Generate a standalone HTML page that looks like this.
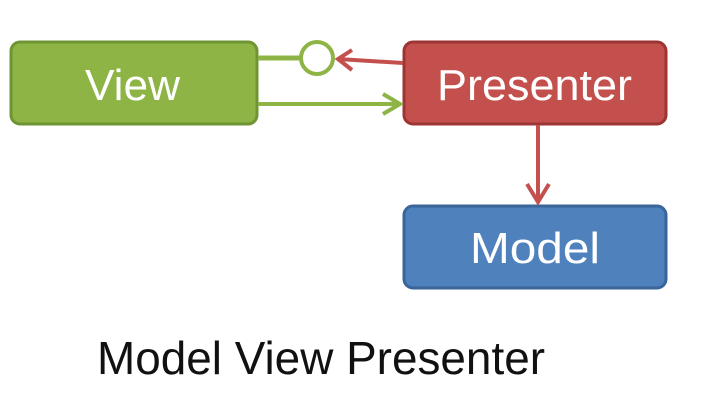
<!DOCTYPE html>
<html><head><style>
html,body{margin:0;padding:0;background:#fff;width:704px;height:408px;overflow:hidden}
</style></head><body>
<svg width="704" height="408" xmlns="http://www.w3.org/2000/svg" style="font-family:'Liberation Sans',sans-serif">
<rect x="11" y="42" width="246" height="82" rx="9" fill="#8db444" stroke="#6e9434" stroke-width="3"/>
<rect x="404" y="42" width="262" height="82" rx="9" fill="#c4504d" stroke="#9c3533" stroke-width="3"/>
<rect x="404" y="206" width="262" height="82" rx="9" fill="#4f81bd" stroke="#3a659a" stroke-width="3"/>
<text x="85" y="100" font-size="44" fill="#fff" textLength="95" lengthAdjust="spacingAndGlyphs">View</text>
<text x="437" y="100" font-size="44" fill="#fff" textLength="195" lengthAdjust="spacingAndGlyphs">Presenter</text>
<text x="470" y="263" font-size="44" fill="#fff" textLength="130" lengthAdjust="spacingAndGlyphs">Model</text>
<line x1="258" y1="58" x2="301" y2="58" stroke="#8db444" stroke-width="5"/>
<circle cx="317" cy="58" r="16" fill="#fff" stroke="#8db444" stroke-width="4"/>
<line x1="403" y1="63" x2="338" y2="59" stroke="#c4504d" stroke-width="4"/>
<polyline points="352,50 338,59 352,70" fill="none" stroke="#c4504d" stroke-width="4"/>
<line x1="258" y1="104" x2="400" y2="104" stroke="#8db444" stroke-width="4"/>
<polyline points="383,94 400,104 383,114" fill="none" stroke="#8db444" stroke-width="4"/>
<line x1="538" y1="125" x2="538" y2="202" stroke="#c4504d" stroke-width="4"/>
<polyline points="527,184 538,202 549,184" fill="none" stroke="#c4504d" stroke-width="4"/>
<text x="97" y="374" font-size="46" fill="#111" textLength="448" lengthAdjust="spacingAndGlyphs">Model View Presenter</text>
</svg>
</body></html>
